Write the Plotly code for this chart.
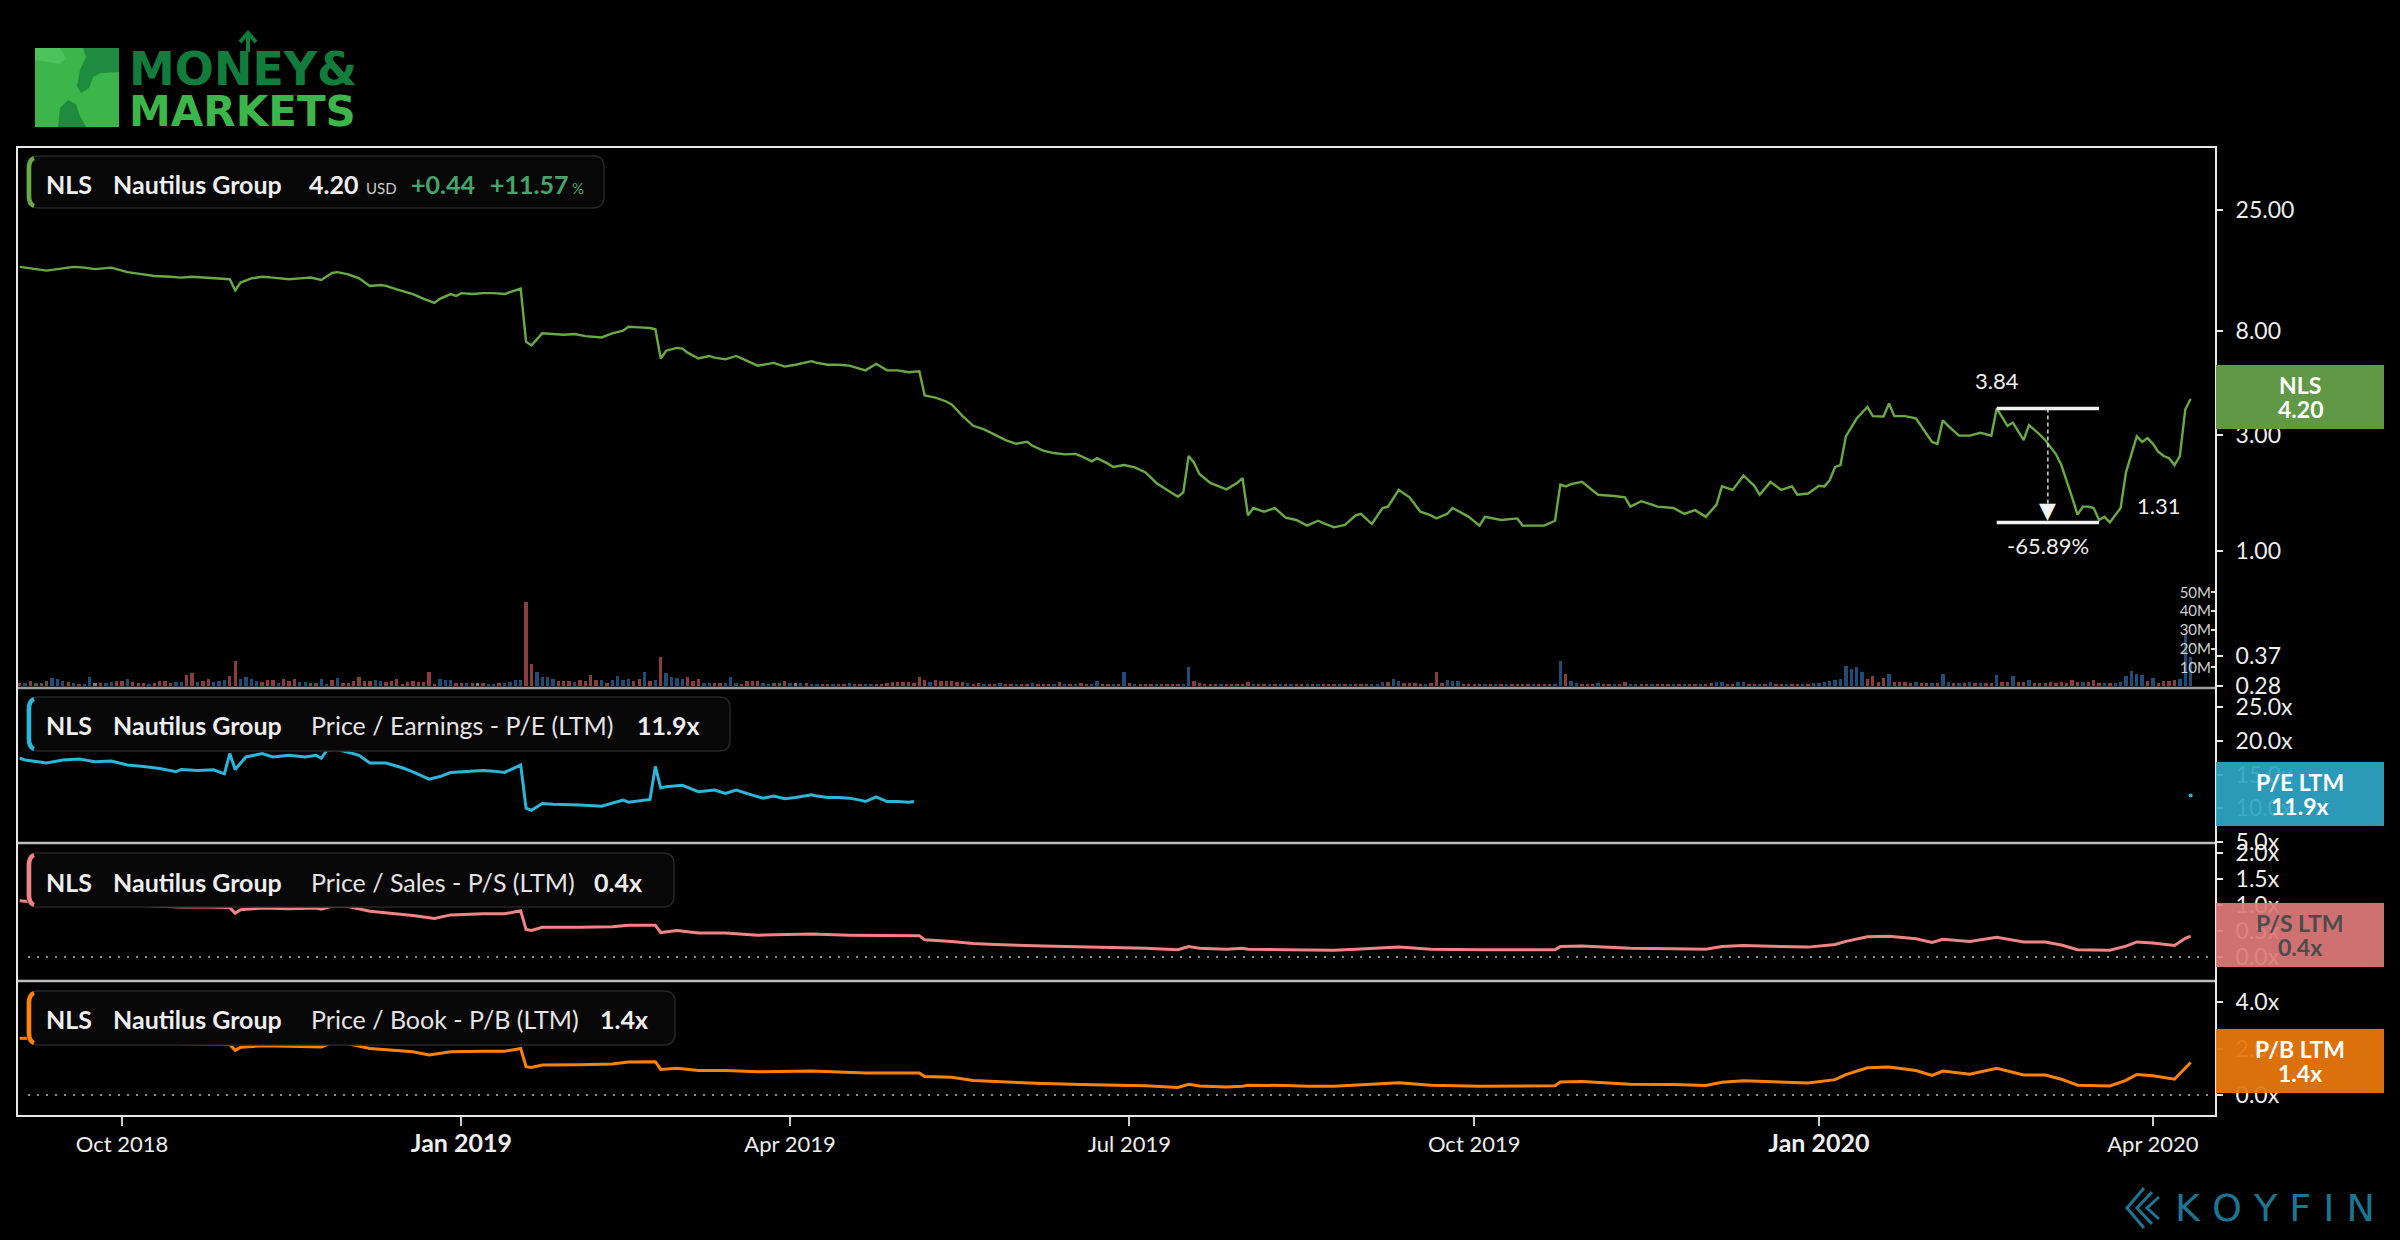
import math
import pandas as pd
import plotly.graph_objects as go

# ---------------- data ----------------
market_holidays = ["2018-11-22", "2018-12-05", "2018-12-25", "2019-01-01", "2019-01-21",
                   "2019-02-18", "2019-04-19", "2019-05-27", "2019-07-04", "2019-09-02",
                   "2019-11-28", "2019-12-25", "2020-01-01", "2020-01-20", "2020-02-17",
                   "2020-04-10"]
first_session = "2018-09-04"
last_session = "2020-04-13"

# price (session number since first_session, close in USD)
price_session = [0, 2, 5, 8, 10, 12, 14, 17, 20, 22, 25, 28, 30, 32, 35, 37, 39, 40, 41, 43,
                 45, 47, 50, 52, 54, 56, 58, 59, 61, 63, 65, 67, 68, 70, 73, 75, 77, 78, 80, 81,
                 82, 84, 86, 88, 90, 91, 93, 94, 95, 97, 99, 101, 103, 105, 108, 110, 112, 113, 115, 117,
                 118, 119, 120, 122, 123, 124, 126, 128, 129, 131, 133, 135, 137, 139, 140, 142, 144, 147, 148, 150,
                 152, 154, 156, 157, 159, 161, 163, 165, 167, 168, 170, 172, 173, 175, 177, 179, 181, 183, 185, 187,
                 188, 190, 192, 194, 196, 197, 199, 200, 202, 203, 205, 207, 209, 211, 213, 215, 216, 217, 218, 219,
                 221, 224, 226, 227, 228, 229, 231, 233, 235, 237, 239, 241, 242, 244, 246, 248, 249, 251, 253, 254,
                 256, 258, 260, 262, 263, 265, 266, 268, 269, 271, 272, 275, 278, 279, 281, 283, 285, 286, 287, 288,
                 290, 292, 293, 296, 298, 299, 301, 303, 304, 307, 309, 311, 313, 315, 316, 318, 320, 322, 323, 325,
                 327, 329, 330, 332, 334, 335, 336, 337, 338, 339, 341, 343, 344, 346, 347, 348, 350, 352, 353, 355,
                 356, 357, 358, 360, 362, 364, 366, 367, 369, 370, 372, 373, 375, 376, 378, 379, 381, 382, 383, 384,
                 385, 386, 387, 388, 389, 390, 391, 392, 393, 394, 395, 396, 397, 398, 399, 400, 401, 402, 403]
price_close = [14.6, 14.4, 14.1, 14.4, 14.6, 14.5, 14.3, 14.5, 13.9, 13.7, 13.4, 13.3, 13.2, 13.3, 13.2, 13.1, 13.0, 11.7, 12.6, 13.1,
               13.3, 13.2, 13.0, 13.1, 13.2, 12.9, 13.8, 13.9, 13.6, 13.1, 12.2, 12.3, 12.2, 11.8, 11.3, 10.8, 10.4, 10.8, 11.3, 11.1,
               11.4, 11.3, 11.4, 11.4, 11.3, 11.5, 11.9, 7.2, 6.96, 7.8, 7.75, 7.7, 7.75, 7.6, 7.5, 7.8, 8.0, 8.3, 8.25, 8.2,
               8.1, 6.15, 6.62, 6.8, 6.75, 6.5, 6.15, 6.3, 6.2, 6.1, 6.3, 6.0, 5.75, 5.85, 5.9, 5.7, 5.8, 6.0, 5.9, 5.8,
               5.8, 5.75, 5.6, 5.5, 5.85, 5.5, 5.5, 5.4, 5.45, 4.34, 4.25, 4.1, 3.99, 3.58, 3.26, 3.15, 3.0, 2.85, 2.75, 2.8,
               2.7, 2.58, 2.52, 2.49, 2.5, 2.45, 2.33, 2.4, 2.28, 2.21, 2.25, 2.2, 2.1, 1.9, 1.78, 1.67, 1.74, 2.45, 2.3, 2.07,
               1.9, 1.79, 1.9, 1.99, 1.40, 1.50, 1.45, 1.50, 1.37, 1.34, 1.27, 1.33, 1.30, 1.25, 1.28, 1.40, 1.42, 1.29, 1.50, 1.52,
               1.78, 1.66, 1.45, 1.40, 1.36, 1.42, 1.50, 1.42, 1.38, 1.27, 1.38, 1.34, 1.36, 1.27, 1.27, 1.27, 1.33, 1.87, 1.84, 1.88,
               1.92, 1.78, 1.70, 1.68, 1.66, 1.52, 1.60, 1.55, 1.52, 1.50, 1.42, 1.47, 1.38, 1.55, 1.84, 1.78, 2.04, 1.85, 1.70, 1.92,
               1.78, 1.84, 1.70, 1.72, 1.85, 1.84, 1.95, 2.21, 2.25, 2.95, 3.49, 3.89, 3.57, 3.56, 4.02, 3.57, 3.57, 3.50, 3.26, 2.80,
               2.75, 3.43, 3.26, 2.97, 2.97, 3.05, 2.97, 3.84, 3.26, 3.36, 2.85, 3.28, 3.00, 2.85, 2.49, 2.25, 1.66, 1.41, 1.52, 1.52,
               1.50, 1.34, 1.38, 1.31, 1.40, 1.50, 2.10, 2.49, 2.95, 2.80, 2.90, 2.75, 2.55, 2.45, 2.40, 2.25, 2.45, 3.80, 4.20]

# P/E (LTM)
pe_session = [0, 1, 5, 8, 11, 14, 17, 20, 23, 26, 29, 30, 33, 36, 38, 39, 40, 42, 45, 47,
              50, 53, 55, 56, 57, 59, 61, 63, 65, 68, 71, 73, 76, 78, 80, 83, 86, 88, 90, 93,
              94, 95, 97, 99, 101, 104, 108, 110, 112, 113, 117, 118, 119, 120, 123, 126, 129, 131, 133, 136,
              138, 140, 142, 144, 147, 148, 150, 152, 154, 156, 157, 159, 161, 163, 165, 166]
pe_value = [17.4, 17.15, 16.7, 17.15, 17.3, 16.9, 17.0, 16.4, 16.2, 15.9, 15.4, 15.75, 15.6, 15.7, 15.1, 18.1, 15.75, 17.6, 18.1, 17.6,
            17.85, 17.6, 17.85, 17.4, 18.6, 18.7, 18.3, 17.85, 16.7, 16.7, 16.0, 15.4, 14.3, 14.7, 15.3, 15.4, 15.6, 15.5, 15.3, 16.4,
            10.0, 9.7, 10.7, 10.6, 10.6, 10.5, 10.3, 10.8, 11.2, 10.9, 11.3, 16.2, 13.0, 13.2, 13.4, 12.45, 12.7, 12.2, 12.7, 11.95,
            11.5, 11.8, 11.4, 11.6, 12.0, 11.8, 11.6, 11.6, 11.5, 11.2, 11.0, 11.7, 11.0, 11.0, 10.9, 11.0]
pe_last_session = 403
pe_last_value = 11.9

# P/S (LTM)
ps_session = [0, 5, 10, 14, 17, 20, 25, 30, 35, 39, 40, 41, 45, 50, 55, 56, 58, 61, 65, 70,
              73, 77, 80, 86, 90, 93, 94, 95, 97, 104, 110, 113, 117, 118, 119, 122, 126, 131, 137, 140,
              147, 154, 161, 167, 168, 173, 177, 181, 190, 199, 209, 215, 217, 219, 224, 227, 228, 235, 244, 248,
              256, 262, 271, 285, 286, 290, 299, 307, 313, 316, 320, 332, 337, 339, 343, 347, 352, 355, 357, 362,
              367, 372, 376, 379, 382, 388, 391, 393, 396, 400, 402, 403]
ps_value = [1.08, 1.04, 1.07, 1.05, 1.06, 1.02, 0.98, 0.96, 0.96, 0.95, 0.84, 0.91, 0.94, 0.93, 0.94, 0.92, 0.98, 0.97, 0.88, 0.83,
            0.80, 0.74, 0.81, 0.83, 0.83, 0.89, 0.53, 0.51, 0.57, 0.57, 0.58, 0.61, 0.60, 0.61, 0.47, 0.51, 0.46, 0.46, 0.42, 0.43,
            0.44, 0.42, 0.41, 0.41, 0.33, 0.30, 0.26, 0.24, 0.21, 0.19, 0.17, 0.14, 0.20, 0.17, 0.15, 0.17, 0.15, 0.14, 0.13, 0.15,
            0.19, 0.15, 0.14, 0.14, 0.20, 0.21, 0.17, 0.16, 0.15, 0.20, 0.22, 0.19, 0.24, 0.30, 0.39, 0.40, 0.35, 0.28, 0.34, 0.30,
            0.38, 0.29, 0.29, 0.23, 0.14, 0.13, 0.21, 0.29, 0.27, 0.22, 0.36, 0.40]

# P/B (LTM)
pb_session = [0, 10, 20, 30, 39, 40, 41, 45, 50, 56, 58, 61, 65, 70, 73, 76, 80, 86, 90, 93,
              94, 95, 97, 104, 110, 113, 117, 118, 119, 122, 126, 131, 137, 147, 157, 167, 168, 173, 177, 181,
              190, 199, 209, 215, 217, 219, 224, 227, 228, 235, 239, 244, 248, 256, 262, 271, 285, 286, 290, 299,
              307, 313, 316, 320, 332, 337, 339, 343, 347, 352, 355, 357, 362, 367, 372, 376, 379, 382, 388, 391,
              393, 396, 400, 402, 403]
pb_value = [2.44, 2.42, 2.32, 2.20, 2.17, 1.92, 2.05, 2.12, 2.10, 2.07, 2.25, 2.20, 2.00, 1.90, 1.86, 1.72, 1.86, 1.88, 1.88, 2.00,
            1.22, 1.18, 1.29, 1.30, 1.33, 1.42, 1.42, 1.43, 1.10, 1.15, 1.05, 1.05, 1.00, 1.03, 0.95, 0.95, 0.80, 0.76, 0.62, 0.57,
            0.49, 0.44, 0.40, 0.32, 0.46, 0.39, 0.34, 0.38, 0.42, 0.41, 0.38, 0.38, 0.42, 0.53, 0.42, 0.38, 0.40, 0.56, 0.58, 0.46,
            0.45, 0.41, 0.55, 0.61, 0.52, 0.66, 0.88, 1.17, 1.20, 1.05, 0.84, 1.03, 0.89, 1.15, 0.86, 0.86, 0.68, 0.42, 0.39, 0.63,
            0.88, 0.83, 0.68, 1.14, 1.40]

# daily volume (millions of shares), one per session
volume_m = [
    1.8, 1.4, 2.7, 1.4, 1.8, 2.8, 4.3, 3.6, 2.8, 2.1,
    1.4, 1.1, 1.1, 4.6, 1.4, 1.4, 1.8, 2.1, 2.8, 2.8,
    3.6, 2.1, 1.8, 1.4, 0.9, 1.4, 2.8, 2.7, 1.8, 2.1,
    2.1, 5.9, 6.8, 2.1, 2.7, 3.7, 2.1, 2.7, 3.2, 5.3,
    13.3, 3.9, 4.6, 3.6, 2.8, 2.0, 3.2, 3.2, 1.8, 3.7,
    2.8, 3.6, 2.3, 2.3, 1.4, 1.4, 3.6, 1.1, 3.2, 4.3,
    1.4, 1.8, 2.8, 4.6, 2.8, 2.5, 3.0, 2.7, 2.1, 2.8,
    3.6, 1.1, 2.1, 2.7, 2.1, 2.1, 7.5, 0.9, 3.7, 3.2,
    3.2, 1.4, 1.4, 1.4, 1.4, 1.4, 1.6, 1.2, 1.2, 1.4,
    1.4, 2.1, 3.2, 3.2, 45.0, 11.5, 7.3, 4.6, 4.6, 3.9,
    2.8, 2.8, 2.8, 2.1, 3.4, 2.6, 5.9, 3.4, 3.2, 1.8,
    3.4, 5.3, 3.2, 3.9, 2.5, 3.6, 7.5, 2.8, 3.0, 15.3,
    6.8, 5.0, 4.3, 3.9, 4.6, 2.5, 3.6, 1.4, 1.4, 1.4,
    1.8, 1.4, 4.6, 1.8, 1.1, 2.8, 2.8, 2.5, 1.4, 1.1,
    1.4, 1.4, 2.5, 1.8, 1.6, 1.8, 1.4, 1.1, 1.2, 1.0,
    1.3, 1.1, 1.0, 1.2, 1.4, 1.1, 1.0, 1.3, 1.2, 1.1,
    1.0, 1.8, 2.1, 2.3, 1.9, 2.1, 1.8, 5.0, 3.4, 2.3,
    3.2, 2.5, 2.5, 2.5, 2.1, 2.1, 1.4, 1.2, 1.6, 1.1,
    1.0, 1.2, 1.4, 1.1, 1.0, 1.3, 1.2, 1.0, 1.4, 1.1,
    1.2, 1.0, 1.3, 2.1, 1.1, 1.0, 1.2, 1.4, 1.0, 1.3,
    2.7, 1.2, 1.2, 1.2, 1.0, 7.5, 1.4, 1.0, 0.9, 1.1,
    1.0, 0.9, 1.2, 1.1, 1.0, 0.9, 1.2, 10.0, 2.7, 1.4,
    1.0, 0.9, 1.1, 0.8, 1.0, 1.2, 0.9, 1.0, 2.1, 1.0,
    0.8, 0.9, 0.7, 1.0, 0.8, 0.9, 0.7, 0.8, 0.9, 0.8,
    0.7, 0.9, 0.8, 0.7, 0.9, 0.8, 0.8, 1.0, 0.9, 0.8,
    0.7, 1.0, 1.2, 2.3, 2.3, 4.0, 2.7, 1.6, 1.4, 1.4,
    1.2, 1.2, 1.4, 7.5, 1.4, 3.2, 2.5, 2.7, 1.0, 0.9,
    0.8, 0.9, 0.7, 0.8, 1.0, 0.9, 0.8, 0.7, 0.9, 0.8,
    0.7, 0.9, 0.8, 1.0, 0.8, 0.9, 13.3, 6.6, 2.7, 1.8,
    1.3, 1.2, 1.0, 1.4, 1.0, 1.2, 0.9, 1.1, 2.1, 1.0,
    0.9, 1.0, 0.8, 0.9, 1.1, 0.8, 1.0, 0.9, 0.8, 0.9,
    0.8, 1.0, 0.9, 0.9, 1.4, 2.1, 2.1, 1.0, 0.9, 2.0,
    2.0, 1.2, 0.9, 1.0, 0.8, 2.1, 0.8, 0.9, 0.8, 1.0,
    0.9, 0.8, 1.0, 1.4, 1.8, 2.3, 2.5, 3.2, 3.6, 10.7,
    8.9, 10.0, 7.6, 3.6, 5.3, 2.1, 4.3, 6.2, 2.1, 2.1,
    2.1, 1.5, 2.0, 1.6, 1.8, 1.4, 1.7, 6.4, 2.0, 1.8,
    1.6, 1.5, 2.0, 1.4, 1.8, 1.5, 1.6, 5.7, 2.0, 2.0,
    5.3, 2.0, 2.0, 3.2, 1.6, 1.8, 1.5, 2.0, 1.8, 2.0,
    1.6, 3.2, 2.0, 2.0, 2.0, 3.2, 1.5, 1.6, 1.5, 1.8,
    2.0, 5.3, 8.0, 6.2, 5.9, 2.8, 4.4, 1.8, 2.5, 2.5,
    3.2, 4.0, 27.7, 15.6,
]
# day direction per session (u=up, d=down, n=unchanged), 10 sessions per group
volume_dir = "".join([
    "dudddduuud", "uduunduudd", "udddudddduu"[:10], "uddudduuud",
    "duuuudddud", "dduudduudu", "dddddduudd", "dddddddduu",
    "uddudnduud", "uuuudduuuu", "ddduddddud", "uuuuddudud",
    "uuuuddduud", "duuudddduu", "dddunuduud", "duddudduud",
    "dddddddddu", "ddddddudduu"[:10], "ddudduddud", "ddudududdu",
    "uddudududd", "dudddduudd", "dddudddddu", "ddudududdu",
    "dudddududd", "duuuduuddd", "duddduuudd", "ddudududdd",
    "duddduuduu", "dddudduddu", "uddudddudu", "ddudduuddu",
    "uddududdud", "duduuuuuuu", "uuudddduddd"[:10], "ddudduduud",
    "udududdudd", "uddudddddd", "dddudddudu", "uuuuudud dd".replace(" ", ""),
    "duuu",
])

price_ticks = [25, 8, 3, 1, 0.37, 0.28]
price_tick_text = ["25.00", "8.00", "3.00", "1.00", "0.37", "0.28"]
volume_ticks = [10, 20, 30, 40, 50]
volume_tick_text = ["10M", "20M", "30M", "40M", "50M"]
pe_ticks = [5, 10, 15, 20, 25]
ps_ticks = [0, 0.5, 1.0, 1.5, 2.0]
pb_ticks = [0, 2, 4]
x_tick_dates = ["2018-10-01", "2019-01-02", "2019-04-01", "2019-07-01",
                "2019-10-01", "2020-01-02", "2020-04-01"]
x_tick_text = ["Oct 2018", "Jan 2019", "Apr 2019", "Jul 2019", "Oct 2019", "Jan 2020", "Apr 2020"]
x_tick_year_start = [False, True, False, False, False, True, False]

measure_high = 3.84
measure_low = 1.31
measure_start = "2020-02-20"
measure_end = "2020-03-18"
measure_mid = "2020-03-05 00:00"
measure_pct = "-65.89%"

# ---------------- helpers ----------------
tdays = pd.bdate_range(first_session, last_session, freq="C", holidays=market_holidays)


def at(sessions):
    return [tdays[s].strftime("%Y-%m-%d") + " 12:00" for s in sessions]


W, H = 2400, 1240
L, R, T, B = 17, 2216, 147, 1116


def X(px):
    return (px - L) / (R - L)


def Y(py):
    return (B - py) / (B - T)


FONT = "Lato, 'Open Sans', sans-serif"
WHITE = "#eeeeee"

# ---------------- traces ----------------
fig = go.Figure()

vcol = {"u": "#1f4d78", "d": "#8a3d3d", "n": "#7a7a7a"}
vdir = (volume_dir + "u" * 404)[:len(volume_m)]
fig.add_trace(go.Bar(x=at(range(len(volume_m))), y=volume_m,
                     marker=dict(color=[vcol.get(c, "#1f4d78") for c in vdir], line=dict(width=0)),
                     width=0.62 * 86400000, xaxis="x", yaxis="y5", hoverinfo="skip"))

fig.add_trace(go.Scatter(x=at(price_session), y=price_close, mode="lines",
                         line=dict(color="#6aaa46", width=2.4), xaxis="x", yaxis="y", hoverinfo="skip"))

fig.add_trace(go.Scatter(x=at(pe_session), y=pe_value, mode="lines",
                         line=dict(color="#2bb6da", width=3), xaxis="x", yaxis="y2", hoverinfo="skip"))
fig.add_trace(go.Scatter(x=at([pe_last_session]), y=[pe_last_value], mode="markers",
                         marker=dict(color="#2bb6da", size=4), xaxis="x", yaxis="y2", hoverinfo="skip"))

fig.add_trace(go.Scatter(x=at(ps_session), y=ps_value, mode="lines",
                         line=dict(color="#f08484", width=3), xaxis="x", yaxis="y3", hoverinfo="skip"))
fig.add_trace(go.Scatter(x=at(pb_session), y=pb_value, mode="lines",
                         line=dict(color="#ff8205", width=3), xaxis="x", yaxis="y4", hoverinfo="skip"))

# measurement tool
ms = measure_start + " 12:00"
me = measure_end + " 12:00"
for lvl in (measure_high, measure_low):
    fig.add_trace(go.Scatter(x=[ms, me], y=[lvl, lvl], mode="lines",
                             line=dict(color="#f2f2f2", width=3.5), xaxis="x", yaxis="y", hoverinfo="skip"))
fig.add_trace(go.Scatter(x=[measure_mid, measure_mid], y=[measure_high, measure_low * 1.1], mode="lines",
                         line=dict(color="#f2f2f2", width=1.3, dash="4px,3px"), xaxis="x", yaxis="y",
                         hoverinfo="skip"))

# ---------------- layout ----------------
d1 = [Y(688), 1.0]
d2 = [Y(843), Y(688)]
d3 = [Y(981), Y(843)]
d4 = [0.0, Y(981)]

tickfont = dict(family=FONT, size=23, color=WHITE)
common_y = dict(side="right", anchor="x", showgrid=False, zeroline=False, showline=False,
                ticks="outside", ticklen=6, tickwidth=2, tickcolor="#e6e6e6",
                tickfont=tickfont, ticklabelstandoff=8, fixedrange=True)

xt_text = [("<b><span style='font-size:25px'>%s</span></b>" % t) if big else t
           for t, big in zip(x_tick_text, x_tick_year_start)]

layout = dict(
    width=W, height=H,
    margin=dict(l=L, r=W - R, t=T, b=H - B, pad=0),
    paper_bgcolor="#000000", plot_bgcolor="#000000",
    showlegend=False, bargap=0,
    font=dict(family=FONT, color=WHITE),
    xaxis=dict(domain=[0, 1], anchor="y4", type="date",
               range=["2018-09-04 00:00", "2020-04-20 05:00"],
               rangebreaks=[dict(bounds=["sat", "mon"]), dict(values=market_holidays)],
               tickvals=[d + " 12:00" for d in x_tick_dates], ticktext=xt_text,
               ticks="outside", ticklen=9, tickwidth=1.5, tickcolor="#cccccc",
               tickfont=dict(family=FONT, size=22, color=WHITE),
               showgrid=False, zeroline=False, showline=False, fixedrange=True),
    yaxis=dict(domain=d1, type="log", range=[(551 - 688) / 244, (551 - 147) / 244],
               tickvals=price_ticks, ticktext=price_tick_text, **common_y),
    yaxis5=dict(overlaying="y", side="right", anchor="x", range=[-2 / 1.875, 539 / 1.875],
                tickvals=volume_ticks, ticktext=volume_tick_text, showgrid=False, zeroline=False,
                showline=False, ticks="inside", ticklen=5, tickwidth=2, tickcolor="#dddddd",
                ticklabelposition="inside", tickfont=dict(family=FONT, size=15, color="#d0d0d0"),
                fixedrange=True),
    yaxis2=dict(domain=d2, range=[5 + (842 - 843) / 6.75, 5 + (842 - 688) / 6.75],
                tickvals=pe_ticks, ticktext=["%.1fx" % v for v in pe_ticks], **common_y),
    yaxis3=dict(domain=d3, range=[(957 - 981) / 52, (957 - 843) / 52],
                tickvals=ps_ticks, ticktext=["%.1fx" % v for v in ps_ticks], **common_y),
    yaxis4=dict(domain=d4, range=[(1095 - 1116) / 23.25, (1095 - 981) / 23.25],
                tickvals=pb_ticks, ticktext=["%.1fx" % v for v in pb_ticks], **common_y),
)
fig.update_layout(**layout)

shapes = []
annotations = []


def line_px(x0, y0, x1, y1, color, width, dash=None, layer="above"):
    d = dict(type="line", xref="paper", yref="paper", x0=X(x0), y0=Y(y0), x1=X(x1), y1=Y(y1),
             line=dict(color=color, width=width), layer=layer)
    if dash:
        d["line"]["dash"] = dash
    shapes.append(d)


def rrect(x0, y0, x1, y1, r, fill, border, bw=1.5, opacity=1.0):
    p = (f"M {X(x0 + r)},{Y(y0)} L {X(x1 - r)},{Y(y0)} Q {X(x1)},{Y(y0)} {X(x1)},{Y(y0 + r)} "
         f"L {X(x1)},{Y(y1 - r)} Q {X(x1)},{Y(y1)} {X(x1 - r)},{Y(y1)} L {X(x0 + r)},{Y(y1)} "
         f"Q {X(x0)},{Y(y1)} {X(x0)},{Y(y1 - r)} L {X(x0)},{Y(y0 + r)} Q {X(x0)},{Y(y0)} {X(x0 + r)},{Y(y0)} Z")
    shapes.append(dict(type="path", xref="paper", yref="paper", path=p, fillcolor=fill,
                       line=dict(color=border, width=bw), layer="above", opacity=opacity))


def rect(x0, y0, x1, y1, fill, opacity=1.0):
    shapes.append(dict(type="rect", xref="paper", yref="paper", x0=X(x0), y0=Y(y0), x1=X(x1), y1=Y(y1),
                       fillcolor=fill, line=dict(width=0), layer="above", opacity=opacity))


def poly(points, fill, line_color=None, lw=0):
    p = "M " + " L ".join(f"{X(a)},{Y(b)}" for a, b in points) + " Z"
    shapes.append(dict(type="path", xref="paper", yref="paper", path=p, fillcolor=fill,
                       line=dict(color=line_color or fill, width=lw), layer="above"))


def polyline(points, color, lw):
    p = "M " + " L ".join(f"{X(a)},{Y(b)}" for a, b in points)
    shapes.append(dict(type="path", xref="paper", yref="paper", path=p,
                       line=dict(color=color, width=lw), layer="above"))


def text(x, y, s, size=25, color=WHITE, bold=False, xanchor="left", family=FONT):
    annotations.append(dict(xref="paper", yref="paper", x=X(x), y=Y(y), text=("<b>%s</b>" % s) if bold else s,
                            showarrow=False, xanchor=xanchor, yanchor="middle",
                            font=dict(family=family, size=size, color=color)))


# zero dotted lines
shapes.append(dict(type="line", xref="paper", yref="y3", x0=X(28), x1=X(2212), y0=0, y1=0,
                   line=dict(color="#bbbbbb", width=1.5, dash="2px,7px"), layer="below"))
shapes.append(dict(type="line", xref="paper", yref="y4", x0=X(28), x1=X(2212), y0=0, y1=0,
                   line=dict(color="#bbbbbb", width=1.5, dash="2px,7px"), layer="below"))

# panel frame
line_px(17, 688, 2216, 688, "#9c9c9c", 2.5)
line_px(17, 843, 2216, 843, "#bdbdbd", 2.5)
line_px(17, 981, 2216, 981, "#bdbdbd", 2.5)
shapes.append(dict(type="rect", xref="paper", yref="paper", x0=0, y0=0, x1=1, y1=1,
                   line=dict(color="#e8e8e8", width=2), layer="above"))

# header boxes
headers = [
    (156, 208, 604, "#6aaa46"),
    (697, 751, 730, "#2bb6da"),
    (853, 907, 674, "#f08484"),
    (991, 1045, 675, "#ff8205"),
]
for y0, y1, x1, col in headers:
    rrect(27, y0, x1, y1, 11, "#070707", "#262626", 1.5)
    shapes.append(dict(type="path", xref="paper", yref="paper",
                       path=f"M {X(34)},{Y(y0 + 2)} Q {X(29)},{Y(y0 + 4)} {X(29)},{Y(y0 + 12)} "
                            f"L {X(29)},{Y(y1 - 12)} Q {X(29)},{Y(y1 - 4)} {X(34)},{Y(y1 - 2)}",
                       line=dict(color=col, width=4.5), layer="above"))

# header texts
text(44, 184, "NLS", bold=True)
text(111, 184, "Nautilus Group", bold=True)
text(307, 184, "4.20", bold=True)
text(364, 188, "USD", size=15, color="#cccccc")
text(409, 184, "+0.44", bold=True, color="#46a36b")
text(488, 184, "+11.57", bold=True, color="#46a36b")
text(570, 188, "%", size=15, color="#46a36b")

sub = [
    (725, "Price / Earnings - P/E (LTM)", "11.9x", 635),
    (882, "Price / Sales - P/S (LTM)", "0.4x", 592),
    (1019, "Price / Book - P/B (LTM)", "1.4x", 598),
]
for yc, metric, val, vx in sub:
    text(44, yc, "NLS", bold=True)
    text(111, yc, "Nautilus Group", bold=True)
    text(309, yc, metric, color="#e4e4e4")
    text(vx, yc, val, bold=True)

# right-hand value boxes
boxes = [
    (365, 429, "#619845", "NLS", "4.20", "#ffffff", 1.0),
    (762, 826, "#2ea5c5", "P/E LTM", "11.9x", "#ffffff", 0.93),
    (903, 967, "#e07a7a", "P/S LTM", "0.4x", "#4c4c4c", 0.93),
    (1029, 1093, "#e8760c", "P/B LTM", "1.4x", "#ffffff", 0.95),
]
for y0, y1, col, t1, t2, tc, op in boxes:
    rect(2216, y0, 2384, y1, col, op)
    text(2300, y0 + 20, t1, size=23, color=tc, bold=True, xanchor="center")
    text(2300, y0 + 44, t2, size=23, color=tc, bold=True, xanchor="center")

# measurement labels (data-anchored)
annotations.append(dict(x=ms, y=math.log10(measure_high), xref="x", yref="y", text="%.2f" % measure_high,
                        showarrow=False, yanchor="bottom", yshift=12,
                        font=dict(family=FONT, size=22, color=WHITE)))
annotations.append(dict(x=me, y=math.log10(measure_low), xref="x", yref="y", text="%.2f" % measure_low,
                        showarrow=False, xanchor="left", yanchor="middle", xshift=36, yshift=17,
                        font=dict(family=FONT, size=22, color=WHITE)))
annotations.append(dict(x=measure_mid, y=math.log10(measure_low), xref="x", yref="y", text=measure_pct,
                        showarrow=False, yanchor="top", yshift=-8,
                        font=dict(family=FONT, size=22, color=WHITE)))
annotations.append(dict(x=measure_mid, y=math.log10(measure_low), xref="x", yref="y", text="▼",
                        showarrow=False, yanchor="bottom", yshift=-3,
                        font=dict(family="DejaVu Sans", size=22, color="#f2f2f2")))

# Money & Markets logo
rect(35, 48, 119, 127, "#3cb54a")
poly([(83, 48), (119, 48), (119, 72), (101, 73), (93, 77), (89, 88), (81, 93), (77, 86), (80, 70), (86, 57)],
     "#1f8b3f")
poly([(58, 127), (60, 108), (68, 100), (76, 104), (80, 116), (86, 127)], "#1f8b3f")
poly([(35, 48), (60, 48), (66, 58), (60, 64), (48, 62), (35, 60)], "#4cc25a")
text(127, 69, "MONEY&amp;", size=46, color="#127c3c", bold=True, family="'DejaVu Sans', sans-serif")
text(127, 111, "MARKETS", size=42, color="#3cb54a", bold=True, family="'DejaVu Sans', sans-serif")
polyline([(248, 52), (248, 33)], "#127c3c", 4)
polyline([(240, 42), (248, 33), (256, 42)], "#127c3c", 4)

# Koyfin logo
polyline([(2144, 1188), (2127, 1208), (2144, 1228)], "#1b7593", 3)
polyline([(2152, 1192), (2137, 1208), (2152, 1224)], "#1b7593", 3)
polyline([(2159, 1197), (2147, 1208), (2159, 1219)], "#1b7593", 3)
text(2275, 1208, "K O Y F I N", size=38, color="#1b7593", xanchor="center", family="'DejaVu Sans', sans-serif")

fig.update_layout(shapes=shapes, annotations=annotations)
fig.write_html("out.html")
